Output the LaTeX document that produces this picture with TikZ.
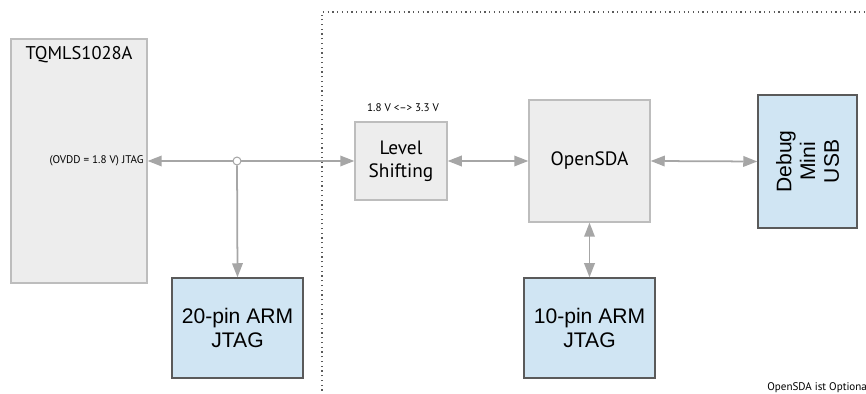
\documentclass[tikz,border=0pt]{standalone}
\usepackage{fontspec}
\setmainfont{PT Sans}
\newfontfamily\arialfont{Liberation Sans}
\usetikzlibrary{arrows.meta}
\definecolor{boxgray}{HTML}{EDEDED}
\definecolor{edgegray}{HTML}{BDBDBD}
\definecolor{boxblue}{HTML}{D0E5F3}
\definecolor{edgedark}{HTML}{5A5A5A}
\definecolor{wiregray}{HTML}{A6A6A6}
\tikzset{
  graybox/.style={draw=edgegray, fill=boxgray, line width=0.8pt, inner sep=0pt, align=center, font=\fontsize{11}{13}\selectfont},
  bluebox/.style={draw=edgedark, fill=boxblue, line width=0.8pt, inner sep=0pt, align=center, font=\arialfont\fontsize{12}{13.5}\selectfont},
  smalltext/.style={inner sep=0pt, font=\fontsize{6.3}{7}\selectfont},
  wire/.style={draw=wiregray, line width=1pt, {Triangle[length=8pt,width=6pt,fill=wiregray]}-{Triangle[length=8pt,width=6pt,fill=wiregray]}},
  wireto/.style={draw=wiregray, line width=1pt, -{Triangle[length=8pt,width=6pt,fill=wiregray]}}
}
\begin{document}
\begin{tikzpicture}[x=0.02cm, y=-0.02cm]
  \useasboundingbox (0,0) rectangle (866,394);
  % optional OpenSDA frame
  \draw [edgedark, dotted, line width=0.7pt] (322,400) -- (322,12) -- (870,12);
  % blocks
  \node [graybox, minimum width=2.72cm, minimum height=4.88cm] (soc) at (79,161) {};
  \node [inner sep=0pt, font=\fontsize{10.5}{12}\selectfont] (socname) at (79,55) {TQMLS1028A};
  \node [smalltext, anchor=east] (jtag) at (144,161) {(OVDD = 1.8 V) JTAG};
  \node [bluebox, minimum width=2.62cm, minimum height=2cm] (pin20) at (237.5,328) {20-pin ARM\\JTAG};
  \node [graybox, minimum width=1.84cm, minimum height=1.56cm] (lvl) at (401,161) {Level\\Shifting};
  \node [smalltext] (lvlnote) at (403,108) {1.8 V <--> 3.3 V};
  \node [graybox, minimum width=2.42cm, minimum height=2.44cm] (sda) at (589.5,161) {OpenSDA};
  \node [bluebox, minimum width=1.98cm, minimum height=2.66cm] (usb) at (807.5,161.5) {};
  \node [rotate=90, align=center, inner sep=0pt, font=\arialfont\fontsize{12}{13.5}\selectfont] (usbtext) at (usb.center) {Debug\\Mini\\USB};
  \node [bluebox, minimum width=2.62cm, minimum height=2cm] (pin10) at (589.5,328) {10-pin ARM\\JTAG};
  \node [smalltext, anchor=west] (note) at (767,388) {OpenSDA ist Optional};
  % connections
  \draw [wire] (soc.east) -- (lvl.west);
  \node [circle, draw=wiregray, fill=white, line width=0.6pt, inner sep=0pt, minimum size=4.5pt] (split) at (237,161) {};
  \draw [wireto] (split) -- (pin20.north);
  \draw [wire] (lvl.east) -- (sda.west);
  \draw [wire] (sda.east) -- (usb.west);
  \draw [wire] (sda.south) -- (pin10.north);
\end{tikzpicture}
\end{document}
